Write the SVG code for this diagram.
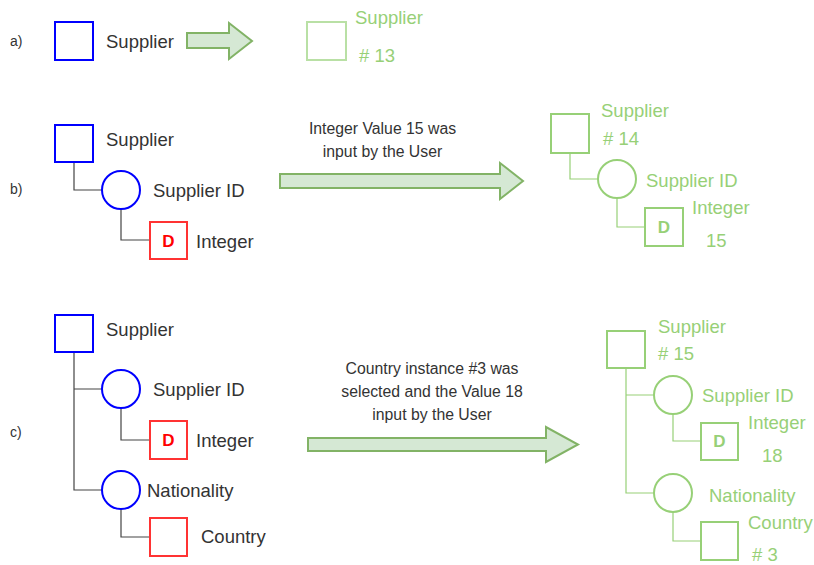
<svg xmlns="http://www.w3.org/2000/svg" width="814" height="565" viewBox="0 0 814 565">
  <style>
    text { font-family: "Liberation Sans", Arial, sans-serif; }
    .lbl { font-size: 18.5px; fill: #333333; }
    .glbl { font-size: 18.5px; fill: #97D077; }
    .tag { font-size: 14px; fill: #333333; }
    .note { font-size: 15.8px; fill: #333333; text-anchor: middle; }
    .ent { fill: #ffffff; stroke: #0000FF; stroke-width: 2; }
    .attr { fill: #ffffff; stroke: #0000FF; stroke-width: 2; }
    .dom { fill: #ffffff; stroke: #FF3333; stroke-width: 2; }
    .gbox { fill: #ffffff; stroke: #97D077; stroke-width: 2; }
    .gpale { fill: #ffffff; stroke: #B9E0A5; stroke-width: 2; }
    .dR { font-size: 17px; font-weight: bold; fill: #FF0000; text-anchor: middle; }
    .dG { font-size: 17px; font-weight: bold; fill: #97D077; text-anchor: middle; }
    .wire { fill: none; stroke: #444444; stroke-width: 1.2; }
    .gwire { fill: none; stroke: #97D077; stroke-width: 1.2; }
    .bigarrow { fill: #D5E8D4; stroke: #82B366; stroke-width: 2; }
  </style>

  <!-- row labels -->
  <text class="tag" x="10" y="46">a)</text>
  <text class="tag" x="10" y="194">b)</text>
  <text class="tag" x="10" y="437">c)</text>

  <!-- connectors -->
  <g id="connectors">
    <path class="wire" d="M74,162 V190 H102"/>
    <path class="wire" d="M121,209 V240 H150"/>
    <path class="wire" d="M74,352 V490 H102 M74,389 H102"/>
    <path class="wire" d="M121,408 V440 H150"/>
    <path class="wire" d="M121,509 V537 H150"/>
    <path class="gwire" d="M570,153 V179 H598"/>
    <path class="gwire" d="M617,198 V227 H645"/>
    <path class="gwire" d="M626,368 V493 H654 M626,395 H654"/>
    <path class="gwire" d="M673,414 V441 H701"/>
    <path class="gwire" d="M673,512 V541 H701"/>
    <path class="bigarrow" d="M187,33 H229 V23 L252,41 L229,59 V48 H187 Z"/>
    <path class="bigarrow" d="M280,174 H500 V163 L523,181 L500,199 V188 H280 Z"/>
    <path class="bigarrow" d="M308,438 H546 V427 L578,444.5 L546,462 V451 H308 Z"/>
  </g>

  <!-- a) -->
  <g id="a-supplier">
    <rect class="ent" x="55" y="22" width="38" height="38"/>
    <text class="lbl" x="106" y="48">Supplier</text>
  </g>
  <g id="a-supplier-13">
    <rect class="gpale" x="307" y="22" width="39" height="38"/>
    <text class="glbl" x="355" y="24">Supplier</text>
    <text class="glbl" x="359" y="62"># 13</text>
  </g>

  <!-- b) -->
  <g id="b-supplier">
    <rect class="ent" x="55" y="125" width="38" height="37"/>
    <text class="lbl" x="106" y="146">Supplier</text>
  </g>
  <g id="b-supplier-id">
    <circle class="attr" cx="121" cy="190" r="19"/>
    <text class="lbl" x="153" y="197">Supplier ID</text>
  </g>
  <g id="b-integer">
    <rect class="dom" x="150" y="222" width="37" height="37"/>
    <text class="dR" x="168.5" y="247">D</text>
    <text class="lbl" x="196" y="248">Integer</text>
  </g>
  <g id="b-note">
    <text class="note" x="382.5" y="134">Integer Value 15 was</text>
    <text class="note" x="382.5" y="157">input by the User</text>
  </g>
  <g id="b-supplier-14">
    <rect class="gbox" x="551" y="114" width="38" height="39"/>
    <text class="glbl" x="601" y="117">Supplier</text>
    <text class="glbl" x="603" y="145"># 14</text>
  </g>
  <g id="b-supplier-id-g">
    <circle class="gbox" cx="617" cy="179" r="19"/>
    <text class="glbl" x="646" y="187">Supplier ID</text>
  </g>
  <g id="b-integer-15">
    <rect class="gbox" x="645" y="208" width="38" height="38"/>
    <text class="dG" x="664" y="233">D</text>
    <text class="glbl" x="692" y="214">Integer</text>
    <text class="glbl" x="706" y="247">15</text>
  </g>

  <!-- c) -->
  <g id="c-supplier">
    <rect class="ent" x="55" y="315" width="38" height="37"/>
    <text class="lbl" x="106" y="336">Supplier</text>
  </g>
  <g id="c-supplier-id">
    <circle class="attr" cx="121" cy="389" r="19"/>
    <text class="lbl" x="153" y="396">Supplier ID</text>
  </g>
  <g id="c-integer">
    <rect class="dom" x="150" y="421" width="37" height="38"/>
    <text class="dR" x="168.5" y="446">D</text>
    <text class="lbl" x="196" y="447">Integer</text>
  </g>
  <g id="c-nationality">
    <circle class="attr" cx="121" cy="490" r="19"/>
    <text class="lbl" x="147" y="497">Nationality</text>
  </g>
  <g id="c-country">
    <rect class="dom" x="150" y="518" width="37" height="38"/>
    <text class="lbl" x="201" y="543">Country</text>
  </g>
  <g id="c-note">
    <text class="note" x="432" y="374">Country instance #3 was</text>
    <text class="note" x="432" y="397">selected and the Value 18</text>
    <text class="note" x="432" y="420">input by the User</text>
  </g>
  <g id="c-supplier-15">
    <rect class="gbox" x="607" y="331" width="38" height="37"/>
    <text class="glbl" x="658" y="333">Supplier</text>
    <text class="glbl" x="658" y="360"># 15</text>
  </g>
  <g id="c-supplier-id-g">
    <circle class="gbox" cx="673" cy="395" r="19"/>
    <text class="glbl" x="702" y="402">Supplier ID</text>
  </g>
  <g id="c-integer-18">
    <rect class="gbox" x="701" y="423" width="37" height="37"/>
    <text class="dG" x="719.5" y="447">D</text>
    <text class="glbl" x="748" y="429">Integer</text>
    <text class="glbl" x="762" y="462">18</text>
  </g>
  <g id="c-nationality-g">
    <circle class="gbox" cx="673" cy="493" r="19"/>
    <text class="glbl" x="709" y="502">Nationality</text>
  </g>
  <g id="c-country-3">
    <rect class="gbox" x="701" y="522" width="37" height="38"/>
    <text class="glbl" x="748" y="529">Country</text>
    <text class="glbl" x="752" y="561"># 3</text>
  </g>
</svg>
